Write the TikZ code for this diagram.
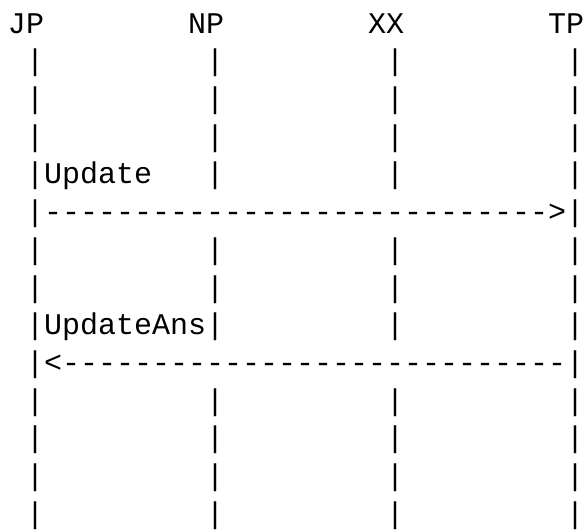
\documentclass[tikz,border=0pt]{standalone}
\usepackage{fontspec}
\setmonofont{Liberation Mono}
\begin{document}
\begin{tikzpicture}[x=1pt,y=1pt,
  txt/.style={anchor=base west, inner sep=0pt, outer sep=0pt,
    font=\ttfamily\fontsize{30}{36}\selectfont}]
\useasboundingbox (0,0) rectangle (585,529);
% column c -> x = 8+18c ; row r -> baseline y = 529-33.2-37.7r
\node[txt] (jp) at (8,495.8) {JP};
\node[txt] (np) at (188,495.8) {NP};
\node[txt] (xx) at (368,495.8) {XX};
\node[txt] (tp) at (548,495.8) {TP};
% lifeline bars
\foreach \r in {1,...,13} {
  \node[txt] (bj-\r) at (26,{495.8-37.7*\r}) {|};
  \node[txt] (bt-\r) at (566,{495.8-37.7*\r}) {|};
}
\foreach \r in {1,2,3,4,6,7,8,10,11,12,13} {
  \node[txt] (bn-\r) at (206,{495.8-37.7*\r}) {|};
  \node[txt] (bx-\r) at (386,{495.8-37.7*\r}) {|};
}
% messages
\node[txt] (upd) at (44,{495.8-37.7*4}) {Update};
\node[txt] (updarrow) at (44,{495.8-37.7*5}) {{-------}{-------}{-------}{-------}>};
\node[txt] (ans) at (44,{495.8-37.7*8}) {UpdateAns};
\node[txt] (ansarrow) at (44,{495.8-37.7*9}) {<{-------}{-------}{-------}{-------}};
\end{tikzpicture}
\end{document}
